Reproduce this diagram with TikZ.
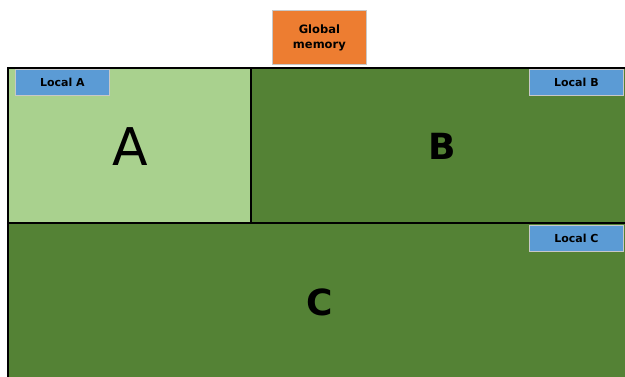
\documentclass[tikz,border=0pt]{standalone}
\usepackage{fontspec}
\setmainfont{DejaVu Sans}
\definecolor{lightg}{HTML}{A9D18E}
\definecolor{darkg}{HTML}{548235}
\definecolor{orng}{HTML}{ED7D31}
\definecolor{blu}{HTML}{5B9BD5}
\definecolor{bord}{HTML}{C8C8C8}
\begin{document}
\begin{tikzpicture}[x=1pt,y=-1pt,
  region/.style={draw=black,line width=1.6pt},
  tag/.style={draw=bord,line width=0.8pt,fill=blu,minimum width=94pt,minimum height=26pt,inner sep=0pt,font=\bfseries\fontsize{11}{13}\selectfont,anchor=north west},
  big/.style={font=\fontsize{36}{40}\selectfont\bfseries}]
\useasboundingbox (0,0) rectangle (625,376);
\begin{scope}
\clip (0,0) rectangle (625,376);
\path[region,fill=lightg] (8,68) rectangle (251,223);
\path[region,fill=darkg] (251,68) rectangle (640,223);
\path[region,fill=darkg] (8,223) rectangle (640,390);
\end{scope}
\node[draw=bord,line width=0.8pt,fill=orng,minimum width=94pt,minimum height=54pt,inner sep=0pt,anchor=north west,align=center,font=\bfseries\fontsize{11.5}{15}\selectfont] (gm) at (272,10) {Global\\memory};
\node[tag] (la) at (15,69) {Local A};
\node[tag] (lb) at (529,69) {Local B};
\node[tag] (lc) at (529,225) {Local C};
\node[font=\fontsize{52}{56}\selectfont] (a) at (130,147) {A};
\node[big] (b) at (442,146) {B};
\node[big] (c) at (320,302) {C};
\end{tikzpicture}
\end{document}
